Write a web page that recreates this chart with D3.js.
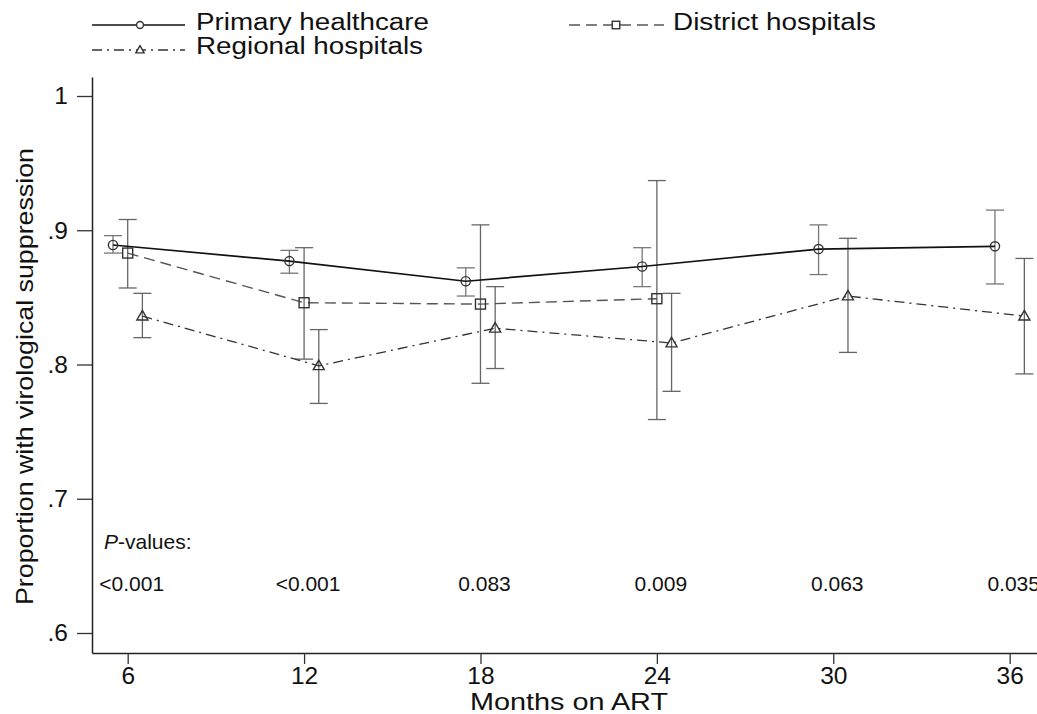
<!DOCTYPE html>
<html>
<head>
<meta charset="utf-8">
<script src="https://cdn.jsdelivr.net/npm/d3@7"></script>
<style>
  html, body { margin: 0; padding: 0; background: #fff; }
  svg { display: block; font-family: "Liberation Sans", Arial, sans-serif; }
</style>
</head>
<body>
<svg id="chart" width="1037" height="714"></svg>
<script>
// ---- data ----
const months = [6, 12, 18, 24, 30, 36];
const yTicks = [0.6, 0.7, 0.8, 0.9, 1.0];

const primaryMean = [0.889, 0.877, 0.862, 0.873, 0.886, 0.888];
const primaryLo   = [0.883, 0.868, 0.851, 0.858, 0.867, 0.860];
const primaryHi   = [0.896, 0.885, 0.872, 0.887, 0.904, 0.915];

const districtMonths = [6, 12, 18, 24];
const districtMean = [0.883, 0.846, 0.845, 0.849];
const districtLo   = [0.857, 0.804, 0.786, 0.759];
const districtHi   = [0.908, 0.887, 0.904, 0.937];

const regionalMean = [0.836, 0.799, 0.827, 0.816, 0.851, 0.836];
const regionalLo   = [0.820, 0.771, 0.797, 0.780, 0.809, 0.793];
const regionalHi   = [0.853, 0.826, 0.858, 0.853, 0.894, 0.879];

const pValues = ["<0.001", "<0.001", "0.083", "0.009", "0.063", "0.035"];

// ---- layout ----
const svg = d3.select("#chart");
svg.append("rect").attr("width", 1037).attr("height", 714).attr("fill", "#fff");

const x = d3.scaleLinear().domain([4.786, 36.93]).range([92, 1037]);
const y = d3.scaleLinear().domain([0.5851, 1.01415]).range([653, 77]);

const font = "Liberation Sans, Arial, sans-serif";

// axes
const yAxis = d3.axisLeft(y).tickValues(yTicks).tickSize(15).tickSizeOuter(0).tickPadding(9)
  .tickFormat(v => v === 1 ? "1" : d3.format(".1f")(v).replace(/^0/, ""));
const gy = svg.append("g").attr("transform", "translate(92,0)").call(yAxis);
const xAxis = d3.axisBottom(x).tickValues(months).tickSize(11).tickSizeOuter(0).tickPadding(3)
  .tickFormat(d3.format("d"));
const gx = svg.append("g").attr("transform", "translate(0,653)").call(xAxis);
[gx, gy].forEach(g => {
  g.select(".domain").attr("stroke", "#222").attr("stroke-width", 1.5);
  g.selectAll(".tick line").attr("stroke", "#333").attr("stroke-width", 1.3);
  g.selectAll(".tick text").attr("fill", "#111").attr("font-size", 24.5).attr("font-family", font);
});

// axis titles
svg.append("text").attr("x", 470).attr("y", 710).attr("font-size", 24).attr("fill", "#111")
  .attr("textLength", 198).attr("lengthAdjust", "spacingAndGlyphs").text("Months on ART");
svg.append("text").attr("transform", "translate(33,605) rotate(-90)")
  .attr("font-size", 24).attr("fill", "#111")
  .attr("textLength", 457).attr("lengthAdjust", "spacingAndGlyphs")
  .text("Proportion with virological suppression");

// series definitions
const series = [
  { name: "Primary healthcare", months: months, mean: primaryMean, lo: primaryLo, hi: primaryHi,
    dx: -0.5, stroke: "#111", width: 1.7, dash: null, marker: "circle", barColor: "#777" },
  { name: "District hospitals", months: districtMonths, mean: districtMean, lo: districtLo, hi: districtHi,
    dx: 0, stroke: "#555", width: 1.4, dash: "11,6", marker: "square", barColor: "#666" },
  { name: "Regional hospitals", months: months, mean: regionalMean, lo: regionalLo, hi: regionalHi,
    dx: 0.5, stroke: "#333", width: 1.3, dash: "10,5,2,5", marker: "triangle", barColor: "#666" }
];

function drawMarker(g, type, cx, cy, scale, color) {
  if (type === "circle") {
    g.append("circle").attr("cx", cx).attr("cy", cy).attr("r", 4.6 * scale)
      .attr("fill", "none").attr("stroke", color).attr("stroke-width", 1.4);
  } else if (type === "square") {
    const s = 10 * scale;
    g.append("rect").attr("x", cx - s / 2).attr("y", cy - s / 2).attr("width", s).attr("height", s)
      .attr("fill", "none").attr("stroke", color).attr("stroke-width", 1.4);
  } else {
    const s = 11 * scale;
    const h = s * 0.87;
    g.append("path")
      .attr("d", `M${cx},${cy - h * 0.6}L${cx + s / 2},${cy + h * 0.4}L${cx - s / 2},${cy + h * 0.4}Z`)
      .attr("fill", "none").attr("stroke", color).attr("stroke-width", 1.4);
  }
}

const plot = svg.append("g");
series.forEach(s => {
  const pts = s.months.map((m, i) => ({ m: m + s.dx, v: s.mean[i], lo: s.lo[i], hi: s.hi[i] }));
  // CI bars
  const bars = plot.append("g").attr("stroke", s.barColor).attr("stroke-width", 1.3).attr("fill", "none");
  pts.forEach(p => {
    const px = x(p.m);
    bars.append("line").attr("x1", px).attr("x2", px).attr("y1", y(p.lo)).attr("y2", y(p.hi));
    bars.append("line").attr("x1", px - 9).attr("x2", px + 9).attr("y1", y(p.lo)).attr("y2", y(p.lo));
    bars.append("line").attr("x1", px - 9).attr("x2", px + 9).attr("y1", y(p.hi)).attr("y2", y(p.hi));
  });
});
series.forEach(s => {
  const pts = s.months.map((m, i) => ({ m: m + s.dx, v: s.mean[i] }));
  const line = d3.line().x(d => x(d.m)).y(d => y(d.v));
  plot.append("path").datum(pts).attr("d", line).attr("fill", "none")
    .attr("stroke", s.stroke).attr("stroke-width", s.width)
    .attr("stroke-dasharray", s.dash);
  const mg = plot.append("g");
  pts.forEach(p => drawMarker(mg, s.marker, x(p.m), y(p.v), 1, "#333"));
});

// P-values annotation
const pLabel = svg.append("text").attr("x", 104).attr("y", 549).attr("font-size", 21).attr("fill", "#111");
pLabel.append("tspan").attr("font-style", "italic").text("P");
pLabel.append("tspan").text("-values:");
svg.append("g").selectAll("text").data(pValues).join("text")
  .attr("x", (d, i) => x(months[i]) + 4)
  .attr("y", 591).attr("font-size", 21).attr("fill", "#111")
  .attr("text-anchor", "middle").text(d => d);

// legend
const legend = [
  { s: series[0], x0: 92, x1: 185, mx: 140, ly: 25, tx: 196, ty: 30, tl: 233 },
  { s: series[2], x0: 92, x1: 185, mx: 140, ly: 50, tx: 196, ty: 54, tl: 227 },
  { s: series[1], x0: 569, x1: 664, mx: 616, ly: 25, tx: 673, ty: 30, tl: 203 }
];
const lg = svg.append("g");
legend.forEach(l => {
  lg.append("line").attr("x1", l.x0).attr("x2", l.x1).attr("y1", l.ly).attr("y2", l.ly)
    .attr("stroke", l.s.stroke).attr("stroke-width", l.s.width).attr("stroke-dasharray", l.s.dash);
  const tmp = lg.append("g");
  drawMarker(tmp, l.s.marker, l.mx, l.ly, 0.75, "#333");
  tmp.selectAll("*").attr("fill", "#fff");
  lg.append("text").attr("x", l.tx).attr("y", l.ty).attr("font-size", 23.5).attr("fill", "#111")
    .attr("textLength", l.tl).attr("lengthAdjust", "spacingAndGlyphs").text(l.s.name);
});
</script>
</body>
</html>
